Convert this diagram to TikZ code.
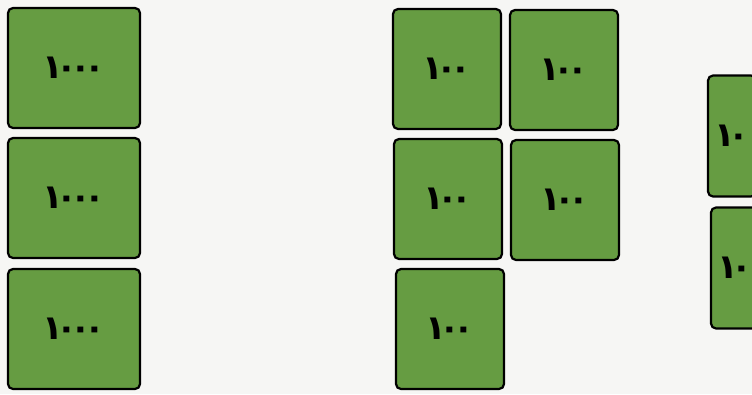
\documentclass[tikz,border=0pt]{standalone}
\usepackage{fontspec}
\newfontfamily\arabicfont[Script=Arabic, LetterSpace=-20]{DejaVu Sans}
\definecolor{cardgreen}{RGB}{102,156,66}
\definecolor{paper}{RGB}{246,246,244}

\begin{document}
\begin{tikzpicture}[x=1bp, y=-1bp,
    card/.style={draw=black, line width=2.2bp, fill=cardgreen, rounded corners=5bp,
                 font=\arabicfont\bfseries\fontsize{34}{34}\selectfont, inner sep=0pt},
    big/.style={card, minimum width=132bp, minimum height=120bp},
    mid/.style={card, minimum width=108bp, minimum height=120bp},
    slim/.style={card, minimum width=48bp, minimum height=121bp}]

  \fill[paper] (0,0) rectangle (752,394);
  \useasboundingbox (0,0) rectangle (752,394);

  % thousands
  \node[big] (t1) at (74,68)  {١٠٠٠};
  \node[big] (t2) at (74,198) {١٠٠٠};
  \node[big] (t3) at (74,329) {١٠٠٠};

  % hundreds
  \node[mid] (h1) at (447,69)  {١٠٠};
  \node[mid] (h2) at (564,70)  {١٠٠};
  \node[mid] (h3) at (448,199) {١٠٠};
  \node[mid] (h4) at (565,200) {١٠٠};
  \node[mid] (h5) at (450,329) {١٠٠};

  % tens (cut by the right edge)
  \node[slim] (d1) at (732,136) {١٠};
  \node[slim] (d2) at (735,268) {١٠};
\end{tikzpicture}
\end{document}
